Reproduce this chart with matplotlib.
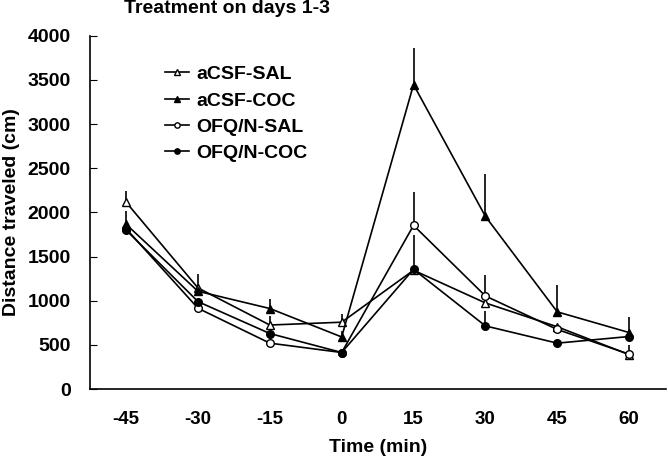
import matplotlib
matplotlib.use("Agg")
import matplotlib.pyplot as plt
import numpy as np

plt.rcParams['font.family'] = ['Liberation Sans', 'DejaVu Sans']

time = [-45, -30, -15, 0, 15, 30, 45, 60]
series_names = ["aCSF-SAL", "aCSF-COC", "OFQ/N-SAL", "OFQ/N-COC"]
acsf_sal = [2115, 1145, 725, 757, 1345, 975, 705, 390]
acsf_coc = [1865, 1107, 912, 590, 3446, 1955, 874, 640]
ofq_sal = [1815, 915, 520, 414, 1853, 1054, 675, 395]
ofq_coc = [1800, 990, 629, 414, 1356, 715, 520, 595]
# upper SEM (0 = hidden)
acsf_sal_err = [125, 0, 100, 90, 0, 0, 0, 0]
acsf_coc_err = [150, 200, 105, 70, 420, 485, 300, 180]
ofq_sal_err = [0, 0, 0, 0, 380, 235, 0, 105]
ofq_coc_err = [0, 0, 0, 0, 390, 165, 0, 0]

fig = plt.figure(figsize=(6.68, 4.61), dpi=100)
ax = fig.add_axes([0.135, 0.156, 0.862, 0.7666])

styles = [
    (acsf_sal, acsf_sal_err, '^', 'white'),
    (acsf_coc, acsf_coc_err, '^', 'black'),
    (ofq_sal, ofq_sal_err, 'o', 'white'),
    (ofq_coc, ofq_coc_err, 'o', 'black'),
]
for name, (vals, errs, m, fc) in zip(series_names, styles):
    vals = np.array(vals, float)
    errs = np.array(errs, float)
    ax.errorbar(time, vals, yerr=[np.zeros_like(errs), errs], fmt='none',
                ecolor='black', elinewidth=1.2, capsize=0, zorder=1)
    ax.plot(time, vals, color='black', lw=1.2, marker=m, markersize=5.5,
            markerfacecolor=fc, markeredgecolor='black', markeredgewidth=1,
            label=name, zorder=3)

ax.set_xlim(-52.5, 67.7)
ax.set_ylim(0, 4000)
ax.set_xticks(time)
ax.set_xticklabels([str(t) for t in time])
ax.set_yticks(np.arange(0, 4001, 500))
ax.tick_params(axis='x', length=0, pad=16, labelsize=13.5)
ax.tick_params(axis='y', direction='in', length=5, pad=14, labelsize=14)
for lab in ax.get_xticklabels() + ax.get_yticklabels():
    lab.set_fontweight('bold')
ax.spines['top'].set_visible(False)
ax.spines['right'].set_visible(False)
ax.spines['left'].set_linewidth(1.2)
ax.spines['bottom'].set_linewidth(1.2)

ax.set_xlabel("Time (min)", fontsize=14, fontweight='bold')
ax.set_ylabel("Distance traveled (cm)", fontsize=14, fontweight='bold')
ax.xaxis.set_label_coords(0.5, -0.141)
ax.yaxis.set_label_coords(-0.122, 0.5)

fig.text(0.34, 0.982, "Treatment on days 1-3", fontsize=14, fontweight='bold',
         ha='center', va='center')

leg = ax.legend(loc='upper left', bbox_to_anchor=(0.1, 0.965), frameon=False,
                fontsize=14, handlelength=1.2, handletextpad=0.4,
                labelspacing=0.45, markerscale=0.7)
for t in leg.get_texts():
    t.set_fontweight('bold')

fig.savefig("out.png", dpi=100)
